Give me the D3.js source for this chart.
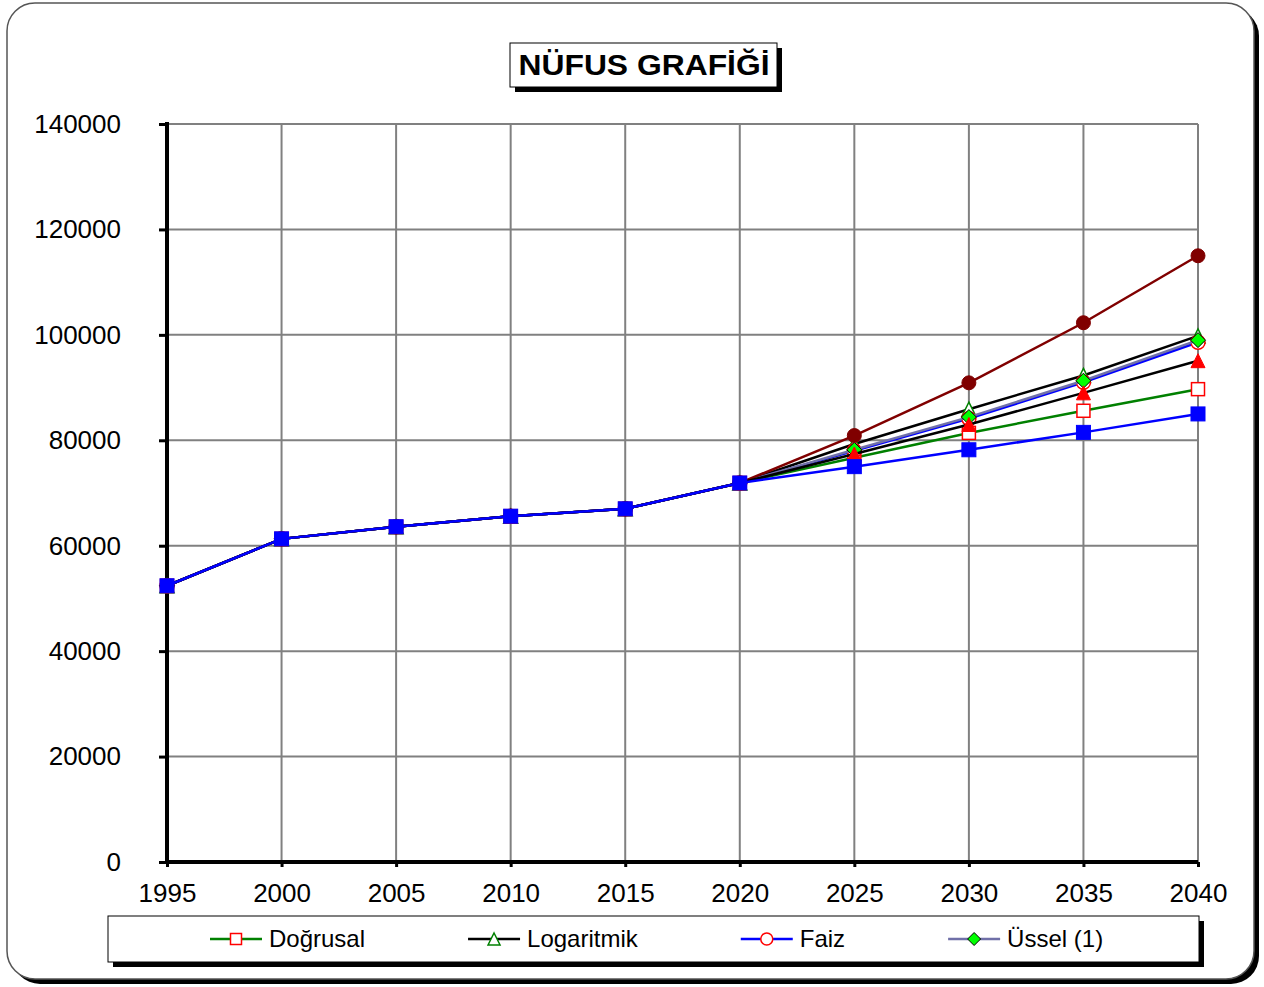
<!DOCTYPE html>
<html lang="tr">
<head>
<meta charset="UTF-8">
<title>Nüfus Grafiği</title>
<style>
    html, body { margin: 0; padding: 0; background: #fff; }
    svg { display: block; font-family: Arial, "Liberation Sans", sans-serif; }
</style>
</head>
<body>
<div id="chart"></div>
<script src="https://cdn.jsdelivr.net/npm/d3@7"></script>
<script>
// --- data ---
const years = [1995, 2000, 2005, 2010, 2015, 2020, 2025, 2030, 2035, 2040];
const history = [52400, 61300, 63600, 65600, 67000, 71900];   // 1995..2020, same for all series
const dogrusal   = [76700, 81400, 85600, 89700];               // 2025..2040
const logaritmik = [79300, 85900, 92300, 99800];
const faiz       = [78000, 84100, 91000, 98600];
const ussel      = [78200, 84400, 91300, 99000];
const seri5      = [80900, 90900, 102300, 115000];
const seri6      = [77400, 83000, 89000, 95100];
const seri7      = [75000, 78200, 81500, 85000];
const yTicks = [0, 20000, 40000, 60000, 80000, 100000, 120000, 140000];
const legendNames = ["Doğrusal", "Logaritmik", "Faiz", "Üssel (1)"];

const W = 1264, H = 987;
const svg = d3.select("#chart").append("svg").attr("width", W).attr("height", H);

// outer rounded frame with shadow
svg.append("rect").attr("x", 12).attr("y", 8).attr("width", 1247).attr("height", 976)
    .attr("rx", 28).attr("fill", "#000");
svg.append("rect").attr("x", 7).attr("y", 3).attr("width", 1247).attr("height", 976)
    .attr("rx", 28).attr("fill", "#fff").attr("stroke", "#555").attr("stroke-width", 1.5);

// title
svg.append("rect").attr("x", 515).attr("y", 48).attr("width", 267).attr("height", 44).attr("fill", "#000");
svg.append("rect").attr("x", 510).attr("y", 43).attr("width", 267).attr("height", 44)
    .attr("fill", "#fff").attr("stroke", "#000").attr("stroke-width", 1);
svg.append("text").attr("x", 644).attr("y", 75).attr("text-anchor", "middle")
    .attr("font-size", 29).attr("font-weight", "bold")
    .attr("textLength", 251).attr("lengthAdjust", "spacingAndGlyphs")
    .text("NÜFUS GRAFİĞİ");

// scales
const x = d3.scaleLinear().domain([1995, 2040]).range([167, 1198]);
const y = d3.scaleLinear().domain([0, 140000]).range([862, 124]);

// grid
const grid = svg.append("g").attr("stroke", "#808080").attr("stroke-width", 2);
grid.selectAll("line.h").data(yTicks).join("line")
    .attr("x1", x(1995)).attr("x2", x(2040)).attr("y1", d => y(d)).attr("y2", d => y(d));
grid.selectAll("line.v").data(years).join("line")
    .attr("x1", d => x(d)).attr("x2", d => x(d)).attr("y1", y(0)).attr("y2", y(140000));

// axes
const yAxis = svg.append("g").attr("transform", `translate(${x(1995)},0)`)
    .call(d3.axisLeft(y).tickValues(yTicks).tickSize(8).tickPadding(38).tickFormat(d3.format("d")));
const xAxis = svg.append("g").attr("transform", `translate(0,${y(0)})`)
    .call(d3.axisBottom(x).tickValues(years).tickSize(5).tickPadding(22).tickFormat(d3.format("d")));
[yAxis, xAxis].forEach(a => {
    a.select(".domain").remove();
    a.selectAll(".tick line").attr("stroke", "#000").attr("stroke-width", 3);
    a.selectAll(".tick text").attr("font-size", 26).attr("fill", "#000")
        .attr("font-family", "Arial, 'Liberation Sans', sans-serif");
});
xAxis.selectAll(".tick text").attr("dy", "0.5em");
svg.append("line").attr("x1", x(1995)).attr("x2", x(1995)).attr("y1", y(140000) - 2).attr("y2", y(0) + 2)
    .attr("stroke", "#000").attr("stroke-width", 4);
svg.append("line").attr("x1", x(1995) - 2).attr("x2", x(2040)).attr("y1", y(0)).attr("y2", y(0))
    .attr("stroke", "#000").attr("stroke-width", 4);

// series
const series = [
    { vals: dogrusal,   line: "#008000", shape: "square",   fill: "#fff",    stroke: "#ff0000", size: 13 },
    { vals: logaritmik, line: "#000000", shape: "triangle", fill: "#fff",    stroke: "#008000", size: 14 },
    { vals: faiz,       line: "#0000ff", shape: "circle",   fill: "#fff",    stroke: "#ff0000", size: 14 },
    { vals: ussel,      line: "#7070a8", shape: "diamond",  fill: "#00ff00", stroke: "#000",    size: 15 },
    { vals: seri5,      line: "#800000", shape: "circle",   fill: "#800000", stroke: "#800000", size: 14 },
    { vals: seri6,      line: "#000000", shape: "triangle", fill: "#ff0000", stroke: "#ff0000", size: 14 },
    { vals: seri7,      line: "#0000ff", shape: "square",   fill: "#0000ff", stroke: "#0000ff", size: 14 }
];

function drawMarker(g, s, cx, cy) {
    const h = s.size / 2;
    let m;
    if (s.shape === "square") {
        m = g.append("rect").attr("x", cx - h).attr("y", cy - h).attr("width", s.size).attr("height", s.size);
    } else if (s.shape === "circle") {
        m = g.append("circle").attr("cx", cx).attr("cy", cy).attr("r", h);
    } else if (s.shape === "triangle") {
        m = g.append("path").attr("d", `M${cx},${cy - h}L${cx + h},${cy + h}L${cx - h},${cy + h}Z`);
    } else {
        m = g.append("path").attr("d", `M${cx},${cy - h}L${cx + h},${cy}L${cx},${cy + h}L${cx - h},${cy}Z`);
    }
    m.attr("fill", s.fill).attr("stroke", s.stroke).attr("stroke-width", s.fill === "#fff" ? 1.5 : 1);
}

const line = d3.line().x(d => x(d[0])).y(d => y(d[1]));
series.forEach(s => {
    const pts = years.map((yr, i) => [yr, i < history.length ? history[i] : s.vals[i - history.length]]);
    const g = svg.append("g");
    g.append("path").attr("d", line(pts)).attr("fill", "none")
        .attr("stroke", s.line).attr("stroke-width", 2.5);
    pts.forEach(p => drawMarker(g, s, x(p[0]), y(p[1])));
});

// legend
svg.append("rect").attr("x", 113).attr("y", 921).attr("width", 1091).attr("height", 46).attr("fill", "#000");
svg.append("rect").attr("x", 108).attr("y", 916).attr("width", 1091).attr("height", 46)
    .attr("fill", "#fff").attr("stroke", "#000").attr("stroke-width", 1);
let lx = 210;
legendNames.forEach((name, i) => {
    const s = series[i];
    const g = svg.append("g");
    g.append("line").attr("x1", lx).attr("x2", lx + 52).attr("y1", 939).attr("y2", 939)
        .attr("stroke", s.line).attr("stroke-width", 2.5);
    drawMarker(g, Object.assign({}, s, { size: s.size - 2 }), lx + 26, 939);
    const t = g.append("text").attr("x", lx + 59).attr("y", 947).attr("font-size", 24).text(name);
    lx = lx + 59 + t.node().getComputedTextLength() + 103;
});
</script>
</body>
</html>
